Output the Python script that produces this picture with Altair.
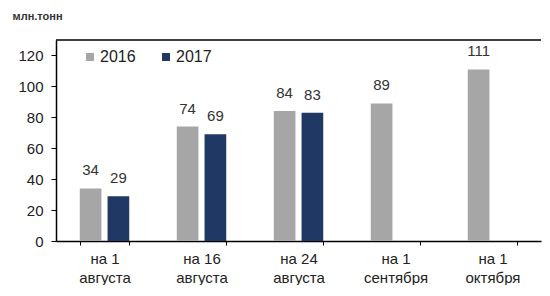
import altair as alt
import pandas as pd

categories = ["на 1|августа", "на 16|августа", "на 24|августа", "на 1|сентября", "на 1|октября"]
values_2016 = [34, 74, 84, 89, 111]
values_2017 = [29, 69, 83, None, None]
years = ["2016", "2017"]
y_ticks = [0, 20, 40, 60, 80, 100, 120]
y_max = 130

rows = []
for c, a, b in zip(categories, values_2016, values_2017):
    rows.append({"cat": c, "year": "2016", "value": a})
    if b is not None:
        rows.append({"cat": c, "year": "2017", "value": b})
df = pd.DataFrame(rows)

FONT = "Liberation Sans"

x = alt.X("cat:N", sort=categories, title=None,
          scale=alt.Scale(paddingInner=0.49, paddingOuter=0.245),
          axis=alt.Axis(labelExpr="split(datum.label, '|')", labelAngle=0,
                        labelFontSize=15, labelColor="#222", labelFont=FONT,
                        labelPadding=6, labelLineHeight=19,
                        tickBand="extent", tickSize=4, tickColor="#000",
                        domainColor="#000", domainWidth=1.5))
xo = alt.XOffset("year:N", scale=alt.Scale(domain=years, paddingInner=0.22))
color = alt.Color("year:N", scale=alt.Scale(domain=years, range=["#A6A6A6", "#1F3864"]),
                  legend=alt.Legend(title=None, orient="none", legendX=26, legendY=9,
                                    direction="horizontal", symbolType="square",
                                    symbolSize=64, labelFontSize=16, labelFont=FONT,
                                    labelColor="#222", columnPadding=22,
                                    symbolStrokeWidth=0, labelOffset=2))

y_axis = alt.Axis(values=y_ticks, tickCount=7, grid=False,
                  labelOverlap=False,
                  labelFontSize=15, labelColor="#222", labelFont=FONT,
                  labelPadding=8, tickSize=5, tickColor="#000",
                  domainColor="#000", domainWidth=1.5,
                  titleAngle=0, titleAlign="left", titleBaseline="middle",
                  titleX=-44, titleY=-24, titleFontSize=11,
                  titleFont=FONT, titleFontWeight="bold", titleColor="#333")
y_scale = alt.Scale(domain=[0, y_max], nice=False)
y = alt.Y("value:Q", title="млн.тонн", scale=y_scale, axis=y_axis)

base = alt.Chart(df)
bars = base.mark_bar().encode(x=x, xOffset=xo, y=y, color=color)
labels = base.mark_text(dy=-18, fontSize=15, font=FONT, color="#333").encode(
    x=x, xOffset=xo, y=y, text="value:Q")
top = alt.Chart(pd.DataFrame({"v": [y_max]})).mark_rule(color="#000", strokeWidth=1.5).encode(
    y=alt.Y("v:Q", title="млн.тонн", scale=y_scale, axis=y_axis))

chart = alt.layer(bars, labels, top).properties(
    width=485, height=201, padding={"left": 4, "top": 2, "right": 0, "bottom": 0}
).configure_view(stroke=None)

chart.save("out.html", embed_options={"renderer": "svg", "actions": False})
